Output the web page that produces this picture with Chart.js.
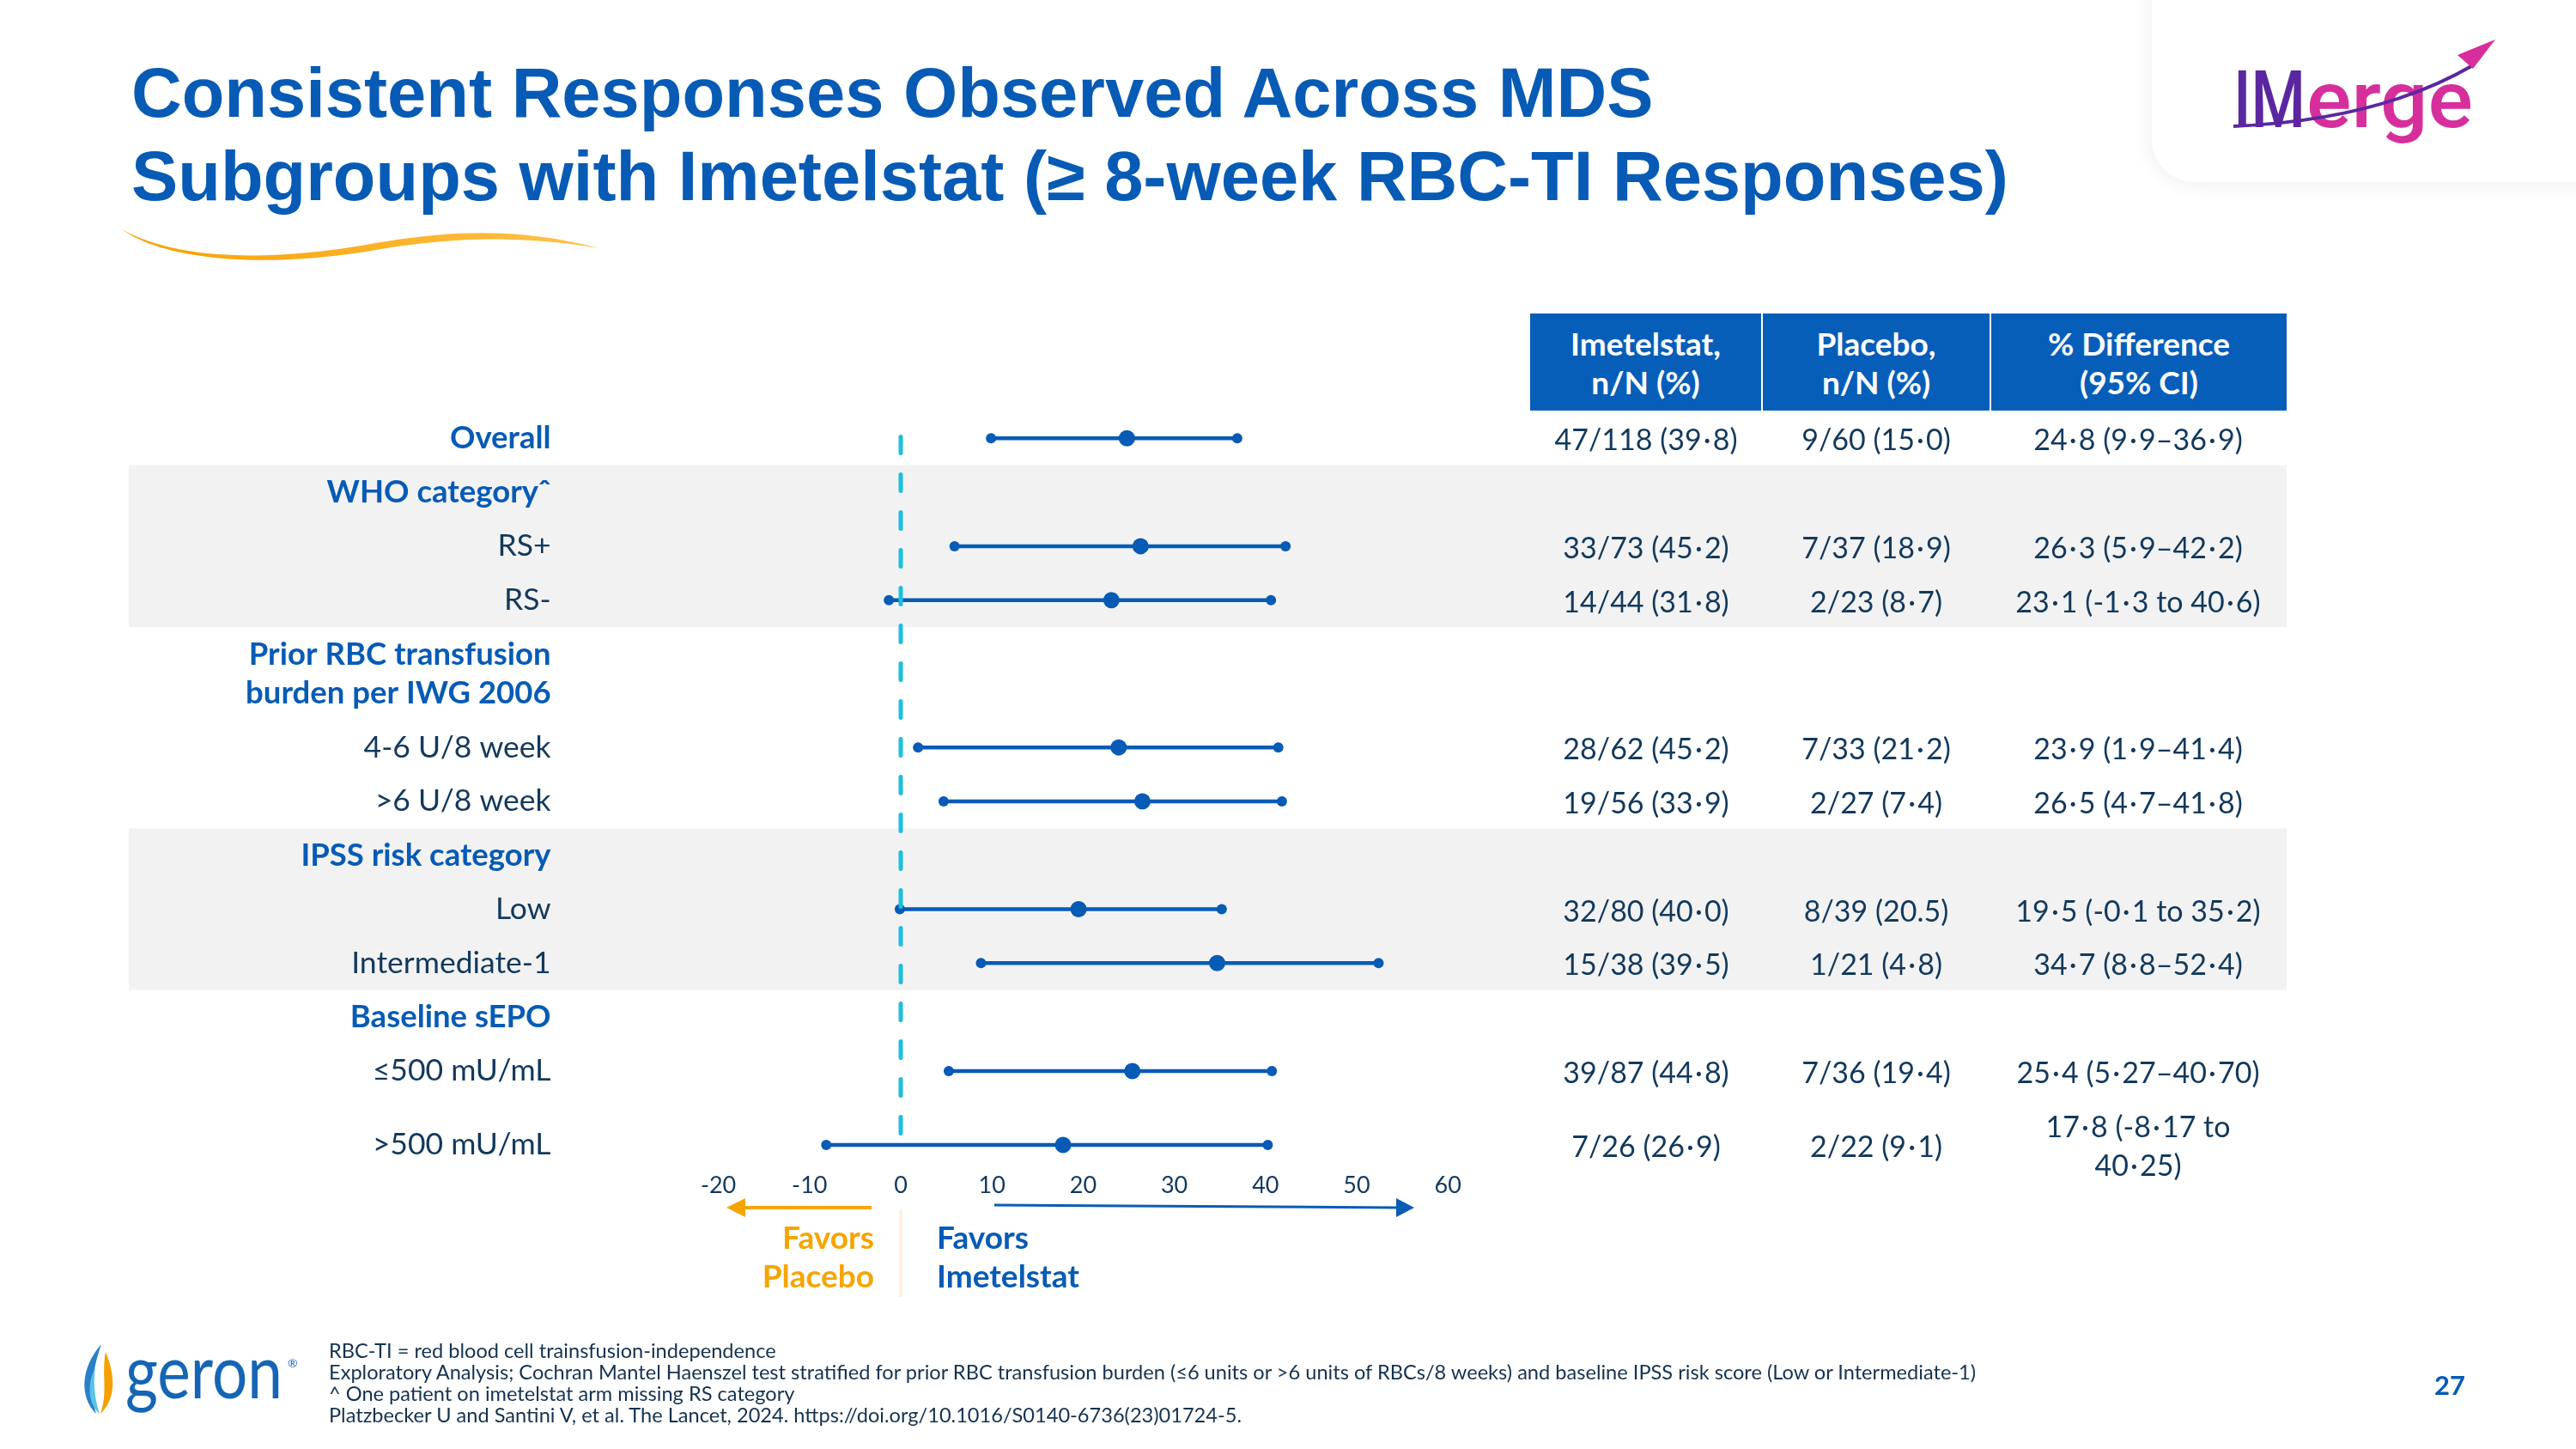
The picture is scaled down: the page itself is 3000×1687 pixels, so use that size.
<!DOCTYPE html>
<html><head><meta charset="utf-8">
<script src="https://cdn.jsdelivr.net/npm/chart.js@4.4.1/dist/chart.umd.min.js"></script>
<style>
html,body{margin:0;padding:0;background:#fff;}
#page{position:relative;width:3000px;height:1687px;overflow:hidden;background:#fff;font-family:Lato,'Noto Sans',sans-serif;}
#c{position:absolute;left:0;top:0;}
.abs{position:absolute;white-space:nowrap;}
.title{left:153px;top:59px;font-family:'Liberation Sans',Arial,sans-serif;font-weight:bold;font-size:81.3px;line-height:97px;color:#075BB5;}
.hdr{position:absolute;top:365px;height:113px;background:#075EB9;color:#fff;font-weight:bold;font-size:37px;line-height:45px;display:flex;align-items:center;justify-content:center;text-align:center;}
.cell{position:absolute;transform:translate(-50%,-50%);white-space:pre;text-align:center;font-size:34px;line-height:45px;color:#12395c;}
.fav{position:absolute;font-weight:bold;font-size:37px;line-height:45px;}
.foot{left:383px;top:1560px;font-size:23.6px;line-height:25px;color:#14324f;}
</style></head>
<body><div id="page">
<canvas id="c" width="3000" height="1687"></canvas>

<div class="abs title">Consistent Responses Observed Across MDS<br>Subgroups with Imetelstat (≥ 8-week RBC-TI Responses)</div>

<div style="position:absolute;left:2506px;top:-50px;width:600px;height:262px;background:#fff;border-radius:50px;box-shadow:0 0 26px rgba(0,0,0,0.08);"></div>

<svg class="abs" style="left:0;top:0" width="3000" height="1687" viewBox="0 0 3000 1687">
  <defs><linearGradient id="og" x1="0" x2="1"><stop offset="0" stop-color="#F6A000"/><stop offset="1" stop-color="#FFC24A"/></linearGradient></defs>
  <path d="M142,267 C200,300 300,306 420,286 C520,268 600,264 698,289 C600,273 520,276 420,294 C300,312 190,302 142,267 Z" fill="url(#og)"/>
  <!-- IMerge logo -->
  <text x="2601" y="148" font-family="Roboto, 'DejaVu Sans'" font-weight="500" font-size="92" fill="#5B27A0" textLength="84" lengthAdjust="spacingAndGlyphs">IM</text>
  <text x="2686" y="148" font-family="Roboto, 'DejaVu Sans'" font-weight="500" font-size="92" fill="#D62F9C" textLength="194" lengthAdjust="spacingAndGlyphs">erge</text>
  <path d="M2601,147 Q2770,140 2880,76" fill="none" stroke="#5B27A0" stroke-width="4"/>
  <path d="M2862,64 L2906,46 L2880,80 Z" fill="#D62F9C"/>
  <!-- geron logo -->
  <path d="M118,1565 C94,1592 92,1626 112,1646 C104,1620 108,1594 118,1565 Z" fill="#2A7FC8"/>
  <path d="M123,1574 C134,1600 136,1628 117,1646 C126,1620 118,1600 123,1574 Z" fill="#F5A000"/>
  <path d="M111,1592 C100,1614 104,1636 116,1646 C109,1626 109,1606 111,1592 Z" fill="#5BC3E6"/>
  <text x="146" y="1628" font-family="Lato" font-weight="400" font-size="88" fill="#1565B5" textLength="183" lengthAdjust="spacingAndGlyphs">geron</text>
  <text x="335" y="1592" font-family="Lato" font-size="14" fill="#1565B5">®</text>
  <!-- favors arrows -->
  <line x1="1015" y1="1406" x2="862" y2="1406" stroke="#F6A500" stroke-width="4"/>
  <path d="M846,1406 L868,1395 L868,1417 Z" fill="#F6A500"/>
  <line x1="1158" y1="1403" x2="1628" y2="1406" stroke="#0A5CB5" stroke-width="3"/>
  <path d="M1647,1406 L1626,1395 L1626,1417 Z" fill="#0A5CB5"/>
</svg>

<div class="hdr" style="left:1782px;width:269px;">Imetelstat,<br>n/N (%)</div>
<div class="hdr" style="left:2053px;width:264px;">Placebo,<br>n/N (%)</div>
<div class="hdr" style="left:2319px;width:344px;">% Difference<br>(95% CI)</div>

<div class="fav" style="right:1982px;top:1417px;color:#F6A500;text-align:right;">Favors<br>Placebo</div>
<div class="fav" style="left:1091px;top:1417px;color:#075BB5;">Favors<br>Imetelstat</div>

<div class="abs foot">RBC-TI = red blood cell trainsfusion-independence<br>Exploratory Analysis; Cochran Mantel Haenszel test stratified for prior RBC transfusion burden (≤6 units or &gt;6 units of RBCs/8 weeks) and baseline IPSS risk score (Low or Intermediate-1)<br>^ One patient on imetelstat arm missing RS category<br>Platzbecker U and Santini V, et al. The Lancet, 2024. https://doi.org/10.1016/S0140-6736(23)01724-5.</div>

<div class="abs" style="left:2835px;top:1593px;font-weight:bold;font-size:31px;line-height:38px;color:#075BB5;">27</div>
</div>

<script>
// ---- data ----
const rowLabels = ['Overall','WHO category\u02C6','RS+','RS-',['Prior RBC transfusion','burden per IWG 2006'],'4-6 U/8 week','>6 U/8 week','IPSS risk category','Low','Intermediate-1','Baseline sEPO','≤500 mU/mL','>500 mU/mL'];
const rowIsHeader = [true,true,false,false,true,false,false,true,false,false,true,false,false];
const subgroups = ['Overall','RS+','RS-','4-6 U/8 week','>6 U/8 week','Low','Intermediate-1','≤500 mU/mL','>500 mU/mL'];
const estimate = [24.8, 26.3, 23.1, 23.9, 26.5, 19.5, 34.7, 25.4, 17.8];
const ciLow    = [9.9, 5.9, -1.3, 1.9, 4.7, -0.1, 8.8, 5.27, -8.17];
const ciHigh   = [36.9, 42.2, 40.6, 41.4, 41.8, 35.2, 52.4, 40.70, 40.25];
const imetelstatCol = ['47/118 (39·8)','33/73 (45·2)','14/44 (31·8)','28/62 (45·2)','19/56 (33·9)','32/80 (40·0)','15/38 (39·5)','39/87 (44·8)','7/26 (26·9)'];
const placeboCol = ['9/60 (15·0)','7/37 (18·9)','2/23 (8·7)','7/33 (21·2)','2/27 (7·4)','8/39 (20.5)','1/21 (4·8)','7/36 (19·4)','2/22 (9·1)'];
const diffCol = ['24·8 (9·9–36·9)','26·3 (5·9–42·2)','23·1 (-1·3 to 40·6)','23·9 (1·9–41·4)','26·5 (4·7–41·8)','19·5 (-0·1 to 35·2)','34·7 (8·8–52·4)','25·4 (5·27–40·70)','17·8 (-8·17 to\n40·25)'];
const xTickMin = -20, xTickMax = 60, xTickStep = 10;

// ---- layout (row slots) ----
const rowY = [0,1,2,3,4.37,5.73,6.73,7.73,8.73,9.73,10.73,11.73,13.1];
const subgroupRow = [0,2,3,5,6,8,9,11,12];
const bandGroups = [[1,3],[7,9]];

const BLUE = '#075BB5', TXT = '#12395c';
const spaced = t => t.replace(/·/g, '\u200A·\u200A');

const datasets = [{
  label:'Estimate',
  data: subgroups.map((s,i)=>({x:estimate[i], y:rowY[subgroupRow[i]]})),
  showLine:false, pointRadius:9.5, pointHoverRadius:9.5, pointBackgroundColor:BLUE, pointBorderWidth:0, order:0, clip:false
}];
subgroups.forEach((s,i)=>{
  const y = rowY[subgroupRow[i]];
  datasets.push({label:s, data:[{x:ciLow[i],y},{x:ciHigh[i],y}], showLine:true, borderColor:BLUE, borderWidth:4.5,
    pointRadius:6, pointHoverRadius:6, pointBackgroundColor:BLUE, pointBorderWidth:0, order:1, clip:false});
});

const deco = {
  id:'deco',
  beforeDraw(chart){
    const c = chart.ctx, ys = chart.scales.y;
    c.save(); c.fillStyle = '#f2f2f2';
    bandGroups.forEach(([a,b])=>{
      const t = ys.getPixelForValue(rowY[a]-0.5), bt = ys.getPixelForValue(rowY[b]+0.5);
      c.fillRect(150, t, 2663-150, bt-t);
    });
    c.restore();
  },
  afterDatasetsDraw(chart){
    const c = chart.ctx, a = chart.chartArea, x0 = chart.scales.x.getPixelForValue(0);
    c.save();
    c.strokeStyle = '#1BBFE0'; c.lineWidth = 5; c.lineCap = 'round'; c.setLineDash([19,25]);
    c.beginPath(); c.moveTo(x0, a.top+4.5); c.lineTo(x0, a.bottom); c.stroke();
    c.setLineDash([]); c.lineCap='butt'; c.strokeStyle = '#FDF0DD'; c.lineWidth = 4;
    c.beginPath(); c.moveTo(x0, 1408); c.lineTo(x0, 1510); c.stroke();
    c.restore();
  }
};

const chart = new Chart(document.getElementById('c'), {
  type:'scatter',
  data:{datasets},
  options:{
    responsive:false, animation:false, devicePixelRatio:1,
    layout:{padding:{top:504, right:3000-1686.2, bottom:0, left:0}},
    plugins:{legend:{display:false}, tooltip:{enabled:false}},
    scales:{
      x:{type:'linear', min:xTickMin, max:xTickMax,
        ticks:{stepSize:xTickStep, padding:22, color:TXT, font:{family:'Lato', size:27}},
        grid:{display:false, drawTicks:false}, border:{display:false},
        afterFit:s=>{s.height = 1687-1342.4;}},
      y:{type:'linear', reverse:true, min:-0.1, max:13.25,
        afterBuildTicks:ax=>{ax.ticks = rowY.map(v=>({value:v}));},
        ticks:{autoSkip:false, padding:195,
          callback:(v,i)=>rowLabels[i],
          color:ctx=>rowIsHeader[ctx.index]?BLUE:TXT,
          font:ctx=>rowIsHeader[ctx.index]
            ? {family:'Lato', size:36.5, weight:'bold', lineHeight:45/36.5}
            : {family:'Lato', size:35.5, weight:'normal', lineHeight:1.25}},
        grid:{display:false, drawTicks:false}, border:{display:false},
        afterFit:s=>{s.width = 836.6;}}
    }
  },
  plugins:[deco]
});

// table body positioned from the chart's y scale
const page = document.getElementById('page');
const colX = [1917, 2185, 2490];
const ys = chart.scales.y;
subgroups.forEach((s,i)=>{
  const py = ys.getPixelForValue(rowY[subgroupRow[i]]);
  [imetelstatCol[i], placeboCol[i], diffCol[i]].forEach((t,k)=>{
    const d = document.createElement('div');
    d.className='cell'; d.textContent=spaced(t);
    d.style.left = colX[k]+'px'; d.style.top = py+'px';
    page.appendChild(d);
  });
});
</script>
</body></html>
